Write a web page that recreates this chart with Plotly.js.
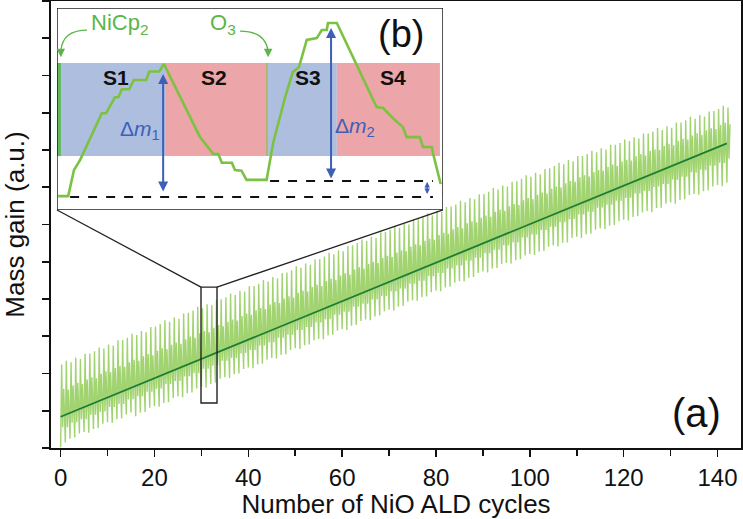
<!DOCTYPE html>
<html>
<head>
<meta charset="utf-8">
<script src="https://cdn.plot.ly/plotly-3.0.1.min.js"></script>
<style>html,body{margin:0;padding:0;background:#fff;}#chart{width:743px;height:519px;}</style>
</head>
<body>
<div id="chart"></div>
<script>
// ---- main panel (a): per-cycle readings (a.u.) ----
const cycleLow = [0.02,0.15,0.25,0.28,0.39,0.43,0.41,0.51,0.53,0.65,
0.69,0.67,0.77,0.79,0.90,0.95,0.85,0.95,0.97,1.08,
1.12,1.11,1.21,1.23,1.34,1.38,1.36,1.47,1.49,1.60,
1.64,1.62,1.72,1.75,1.86,1.90,1.88,1.98,2.00,2.12,
2.16,2.14,2.24,2.26,2.37,2.42,2.40,2.50,2.52,2.63,
2.68,2.66,2.76,2.78,2.89,2.93,2.92,3.02,3.04,3.15,
3.19,3.17,3.28,3.30,3.41,3.45,3.43,3.53,3.56,3.67,
3.71,3.69,3.79,3.81,3.93,3.97,3.95,4.05,4.07,4.18,
4.23,4.21,4.31,4.33,4.44,4.48,4.47,4.57,4.59,4.70,
4.74,4.71,4.82,4.83,4.94,4.97,4.95,5.04,5.07,5.17,
5.21,5.18,5.27,5.29,5.40,5.44,5.41,5.51,5.52,5.64,
5.67,5.64,5.74,5.75,5.86,5.90,5.88,5.97,5.99,6.09,
6.13,6.11,6.20,6.22,6.32,6.36,6.33,6.44,6.45,6.56,
6.59,6.56,6.66,6.68,6.79,6.82,6.80,6.89,6.91,7.02,
7.06,7.03,7.12];
const cycleTall = [2.24,2.34,2.30,2.42,2.39,2.53,2.54,2.60,2.70,2.67,
2.78,2.75,2.89,2.90,2.96,3.07,3.03,3.14,3.11,3.25,
3.26,3.33,3.43,3.39,3.50,3.47,3.61,3.63,3.69,3.79,
3.75,3.86,3.83,3.98,3.99,4.05,4.15,4.11,4.22,4.20,
4.34,4.35,4.41,4.51,4.47,4.59,4.56,4.70,4.71,4.77,
4.88,4.84,4.95,4.92,5.06,5.07,5.14,5.24,5.20,5.31,
5.28,5.42,5.44,5.50,5.60,5.56,5.67,5.64,5.79,5.80,
5.86,5.96,5.91,6.02,6.00,6.14,6.14,6.20,6.30,6.25,
6.37,6.34,6.47,6.48,6.54,6.64,6.60,6.71,6.68,6.81,
6.82,6.88,6.98,6.94,7.05,7.02,7.15,7.16,7.23,7.32,
7.28,7.39,7.35,7.49,7.51,7.57,7.66,7.62,7.73,7.70,
7.84,7.84,7.89,7.98,7.94,8.05,8.01,8.14,8.14,8.19,
8.28,8.24,8.34,8.31,8.44,8.44,8.49,8.59,8.54,8.64,
8.60,8.74,8.74,8.80,8.89,8.84,8.94,8.90,9.03,9.05,
9.10,9.19,9.14];
const cycleDip = [0.56,0.56,0.68,0.69,0.77,0.77,0.89,0.89,0.97,0.98,
1.10,1.10,1.18,1.18,1.30,1.31,1.39,1.39,1.51,1.51,
1.59,1.60,1.72,1.72,1.80,1.80,1.92,1.93,2.01,2.01,
2.13,2.13,2.21,2.22,2.34,2.34,2.42,2.42,2.54,2.55,
2.63,2.63,2.75,2.75,2.83,2.84,2.96,2.96,3.04,3.04,
3.17,3.17,3.25,3.25,3.37,3.37,3.46,3.46,3.58,3.58,
3.66,3.66,3.79,3.79,3.87,3.87,3.99,3.99,4.08,4.08,
4.20,4.20,4.28,4.28,4.41,4.41,4.49,4.49,4.61,4.61,
4.70,4.70,4.82,4.82,4.90,4.90,5.03,5.03,5.11,5.11,
5.23,5.23,5.32,5.32,5.44,5.44,5.52,5.52,5.65,5.65,
5.73,5.73,5.85,5.85,5.94,5.94,6.06,6.06,6.14,6.15,
6.27,6.27,6.34,6.34,6.45,6.46,6.53,6.53,6.64,6.64,
6.71,6.72,6.83,6.83,6.90,6.90,7.01,7.02,7.09,7.09,
7.21,7.20,7.28,7.28,7.40,7.39,7.47,7.46,7.58,7.58,
7.66,7.65,7.77];
const cycleMid = [1.59,1.56,1.68,1.75,1.72,1.84,1.90,1.87,1.99,2.06,
2.03,2.15,2.21,2.18,2.30,2.37,2.34,2.46,2.52,2.49,
2.61,2.68,2.65,2.77,2.83,2.80,2.92,2.99,2.96,3.08,
3.14,3.11,3.23,3.30,3.27,3.39,3.45,3.42,3.54,3.61,
3.58,3.70,3.76,3.73,3.85,3.92,3.89,4.01,4.07,4.04,
4.17,4.23,4.20,4.32,4.38,4.35,4.48,4.54,4.51,4.63,
4.69,4.66,4.79,4.85,4.82,4.94,5.00,4.97,5.10,5.16,
5.13,5.25,5.31,5.28,5.41,5.47,5.44,5.56,5.62,5.59,
5.72,5.78,5.75,5.87,5.93,5.90,6.03,6.09,6.06,6.18,
6.24,6.21,6.34,6.40,6.37,6.49,6.55,6.52,6.65,6.71,
6.68,6.80,6.86,6.83,6.96,7.02,6.99,7.11,7.17,7.15,
7.27,7.33,7.29,7.41,7.46,7.44,7.55,7.61,7.57,7.69,
7.74,7.72,7.83,7.89,7.85,7.97,8.02,8.00,8.11,8.17,
8.13,8.25,8.30,8.28,8.39,8.45,8.41,8.53,8.58,8.56,
8.67,8.73,8.69];
const fitCycles = [0, 142];
const fitMass = [0.84, 8.18];
const xTickVals = [0, 20, 40, 60, 80, 100, 120, 140];

// ---- inset panel (b): one ALD cycle (relative units) ----
const insetTime = [0.3,2.9,4.4,6.0,11.6,12.7,15.0,15.9,16.8,18.7,19.9,23.1,23.9,26.5,27.7,37.0,40.5,41.8,42.7,45.3,46.1,47.8,49.1,54.3,56.0,59.1,61.1,62.7,64.7,67.3,68.6,69.9,70.2,72.5,82.8,84.5,87.0,89.6,90.6,94.0,94.8,97.1,97.4,99.4];
const insetMass = [6.9,6.9,19.8,24.8,47.9,47.9,55.8,55.8,59.8,59.8,64.4,64.4,68.6,68.6,72.3,36.3,27.7,27.7,23.4,23.4,19.8,19.5,14.9,14.9,33.2,55.9,68.3,70.8,84.2,85.1,89.1,89.1,92.6,92.6,51.0,50.5,45.5,41.1,36.1,36.1,31.2,31.2,28.2,12.9];
const stepNames = ['S1', 'S2', 'S3', 'S4'];
const stepStart = [0, 28.0, 54.4, 72.5];
const stepEnd = [28.0, 54.4, 72.5, 99.2];
const stepColors = ['rgb(174,190,222)', 'rgb(236,165,168)', 'rgb(174,190,222)', 'rgb(236,165,168)'];

const sigX = [], sigY = [];
for (let i = 0; i < cycleLow.length; i++) {
  sigX.push(i, i + 0.22, i + 0.44, i + 0.66);
  sigY.push(cycleLow[i], cycleTall[i], cycleDip[i], cycleMid[i]);
}

const FONT = 'Arial, "Liberation Sans", Helvetica, sans-serif';
const BLUE = '#3d5fb8';
const GREEN_TXT = '#5cb548';

const traces = [
  {x: sigX, y: sigY, mode: 'lines', line: {color: 'rgba(125,194,58,0.72)', width: 1.4}, hoverinfo: 'skip', xaxis: 'x', yaxis: 'y'},
  {x: fitCycles, y: fitMass, mode: 'lines', line: {color: '#1b7d36', width: 1.8}, xaxis: 'x', yaxis: 'y'},
  {x: insetTime, y: insetMass, mode: 'lines', line: {color: '#7cc242', width: 2.6}, xaxis: 'x2', yaxis: 'y2'}
];

const shapes = [
  {type: 'rect', xref: 'x2', yref: 'y2', x0: 0, x1: 100, y0: 0, y1: 100, fillcolor: '#fff', line: {width: 0}, layer: 'below'}
];
stepNames.forEach((s, k) => {
  shapes.push({type: 'rect', xref: 'x2', yref: 'y2', x0: stepStart[k], x1: stepEnd[k], y0: 26.7, y1: 72.8, fillcolor: stepColors[k], line: {width: 0}, layer: 'below'});
});
shapes.push(
  {type: 'rect', xref: 'x2', yref: 'y2', x0: 0, x1: 1.0, y0: 26.7, y1: 72.8, fillcolor: '#5fb85a', line: {width: 0}, layer: 'below'},
  {type: 'line', xref: 'x2', yref: 'y2', x0: 54.4, x1: 54.4, y0: 26.7, y1: 72.8, line: {color: '#7cc242', width: 1}, layer: 'below'},
  {type: 'rect', xref: 'x2', yref: 'y2', x0: 0, x1: 100, y0: 0, y1: 100, line: {color: '#222', width: 1.5}},
  {type: 'line', xref: 'x2', yref: 'y2', x0: 3.4, x1: 97.4, y0: 6.4, y1: 6.4, line: {color: '#111', width: 2, dash: 'dash'}},
  {type: 'line', xref: 'x2', yref: 'y2', x0: 55.2, x1: 97.4, y0: 14.4, y1: 14.4, line: {color: '#111', width: 2, dash: 'dash'}},
  {type: 'path', xref: 'x2', yref: 'y2', path: 'M 7.8,89.1 Q 1.3,89.1 1.0,78.5', line: {color: GREEN_TXT, width: 1.3}},
  {type: 'path', xref: 'x2', yref: 'y2', path: 'M 47.4,88.6 Q 54.1,88.6 54.7,78.5', line: {color: GREEN_TXT, width: 1.3}},
  {type: 'path', xref: 'x2', yref: 'y2', path: 'M 99.9,8.6 Q 104.5,8.6 105.6,15.0', line: {color: '#333', width: 1.1}},
  {type: 'rect', xref: 'x', yref: 'y', x0: 29.92, x1: 33.33, y0: 1.21, y1: 4.32, line: {color: '#222', width: 1.4}},
  {type: 'line', xref: 'x', yref: 'y', x0: -0.77, y0: 6.39, x1: 29.92, y1: 4.32, line: {color: '#222', width: 1.3}},
  {type: 'line', xref: 'x', yref: 'y', x0: 81.5, y0: 6.39, x1: 33.33, y1: 4.32, line: {color: '#222', width: 1.3}}
);

const annotations = [
  {xref: 'x', yref: 'y', x: 135.6, y: 0.95, text: '(a)', showarrow: false, font: {family: FONT, size: 40, color: '#111'}},
  {xref: 'x2', yref: 'y2', x: 89.2, y: 87.2, text: '(b)', showarrow: false, font: {family: FONT, size: 38, color: '#111'}},
  {xref: 'x2', yref: 'y2', x: 16.2, y: 92.1, text: 'NiCp<sub>2</sub>', showarrow: false, font: {family: FONT, size: 22, color: GREEN_TXT}},
  {xref: 'x2', yref: 'y2', x: 43.0, y: 92.1, text: 'O<sub>3</sub>', showarrow: false, font: {family: FONT, size: 22, color: GREEN_TXT}},
  {xref: 'x2', yref: 'y2', x: 21.5, y: 39.6, text: 'Δ<i>m</i><sub>1</sub>', showarrow: false, font: {family: FONT, size: 21, color: BLUE}},
  {xref: 'x2', yref: 'y2', x: 77.2, y: 41.0, text: 'Δ<i>m</i><sub>2</sub>', showarrow: false, font: {family: FONT, size: 21, color: BLUE}},
  {xref: 'x2', yref: 'y2', x: 110.5, y: 16.2, text: 'Δ<i>m</i>', showarrow: false, font: {family: FONT, size: 21, color: BLUE}},
  {xref: 'x2', yref: 'y2', axref: 'x2', ayref: 'y2', x: 27.5, y: 67.3, ax: 27.5, ay: 8.4, text: '', showarrow: true, arrowside: 'end+start', arrowhead: 2, arrowsize: 1, arrowwidth: 2, arrowcolor: BLUE},
  {xref: 'x2', yref: 'y2', axref: 'x2', ayref: 'y2', x: 71.0, y: 90.1, ax: 71.0, ay: 14.9, text: '', showarrow: true, arrowside: 'end+start', arrowhead: 2, arrowsize: 1, arrowwidth: 2, arrowcolor: BLUE},
  {xref: 'x2', yref: 'y2', axref: 'x2', ayref: 'y2', x: 95.9, y: 13.9, ax: 95.9, ay: 7.2, text: '', showarrow: true, arrowside: 'end+start', arrowhead: 2, arrowsize: 0.7, arrowwidth: 1.6, arrowcolor: BLUE},
  {xref: 'x2', yref: 'y2', x: 1.0, y: 75.6, ax: 0, ay: -9, text: '', showarrow: true, arrowhead: 2, arrowsize: 1.3, arrowwidth: 1.3, arrowcolor: GREEN_TXT},
  {xref: 'x2', yref: 'y2', x: 54.7, y: 75.6, ax: 0, ay: -9, text: '', showarrow: true, arrowhead: 2, arrowsize: 1.3, arrowwidth: 1.3, arrowcolor: GREEN_TXT}
];
stepNames.forEach((s, k) => {
  annotations.push({xref: 'x2', yref: 'y2', x: [15.3, 40.7, 65.0, 87.0][k], y: 65.6, text: '<b>' + s + '</b>', showarrow: false, font: {family: FONT, size: 21, color: '#111'}});
});

const layout = {
  width: 743, height: 519,
  margin: {l: 51, r: 2, t: 1, b: 71},
  paper_bgcolor: '#fff', plot_bgcolor: '#fff',
  showlegend: false,
  font: {family: FONT, color: '#111'},
  xaxis: {
    range: [-2.05, 145], tickvals: xTickVals, ticks: 'outside', ticklen: 7, tickwidth: 1.6, tickcolor: '#111',
    minor: {dtick: 10, tick0: 0, ticks: 'outside', ticklen: 6, tickwidth: 1.6, tickcolor: '#111'},
    showline: true, linewidth: 2, linecolor: '#111', mirror: true, showgrid: false, zeroline: false,
    tickfont: {family: FONT, size: 24, color: '#111'},
    title: {text: 'Number of NiO ALD cycles', font: {family: FONT, size: 26, color: '#111'}, standoff: 7},
    automargin: false
  },
  yaxis: {
    range: [0, 12], dtick: 1, tick0: 0, ticks: 'outside', ticklen: 7, tickwidth: 1.6, tickcolor: '#111',
    showticklabels: false, showline: true, linewidth: 2, linecolor: '#111', mirror: true, showgrid: false, zeroline: false,
    title: {text: 'Mass gain (a.u.)', font: {family: FONT, size: 26, color: '#111'}, standoff: 11},
    automargin: false
  },
  xaxis2: {domain: [0.0087, 0.5681], range: [0, 100], anchor: 'y2', visible: false, fixedrange: true},
  yaxis2: {domain: [0.5324, 0.9843], range: [0, 100], anchor: 'x2', visible: false, fixedrange: true},
  shapes: shapes,
  annotations: annotations
};

Plotly.newPlot('chart', traces, layout, {staticPlot: true, displayModeBar: false});
</script>
</body>
</html>
